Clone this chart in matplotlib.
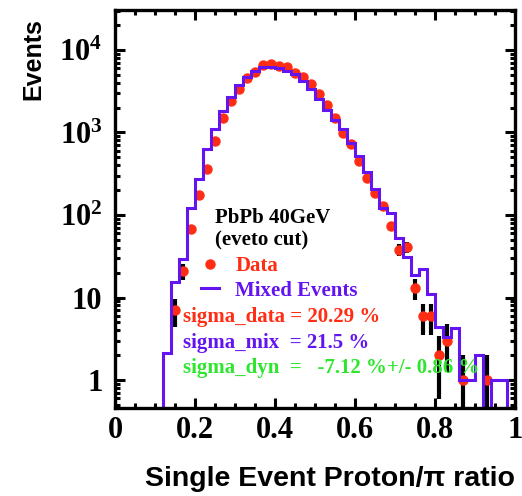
import numpy as np
import matplotlib
matplotlib.use('Agg')
from matplotlib import pyplot as plt
from matplotlib.ticker import FixedLocator, MultipleLocator, LogLocator, NullFormatter

plt.rcParams['mathtext.fontset'] = 'custom'
plt.rcParams['mathtext.rm'] = 'Liberation Serif:bold'
plt.rcParams['mathtext.it'] = 'Liberation Serif:bold'
plt.rcParams['mathtext.bf'] = 'Liberation Serif:bold'

# data points (bin centers, counts)
data_x = [0.15, 0.17, 0.19, 0.21, 0.23, 0.25, 0.27, 0.29, 0.31, 0.33,
          0.35, 0.37, 0.39, 0.41, 0.43, 0.45, 0.47, 0.49, 0.51, 0.53,
          0.55, 0.57, 0.59, 0.61, 0.63, 0.65, 0.67, 0.69, 0.71, 0.73,
          0.75, 0.77, 0.79, 0.81, 0.83, 0.87, 0.93]
data_y = [7, 21, 67, 174, 361, 796, 1480, 2410, 3365, 4540,
          5400, 6580, 6760, 6400, 6170, 5310, 4745, 3840, 2900, 2150,
          1480, 995, 728, 452, 283, 186, 129, 74, 38, 41,
          13, 6, 6, 2, 3, 1, 1]

# mixed events histogram, 50 bins from 0 to 1
bin_edges = np.linspace(0.0, 1.0, 51)
mixed = [0, 0, 0, 0, 0, 0, 2.1, 15.5, 29, 120,
         271, 630, 1096, 1817, 2717, 3767, 4745, 5620, 6300, 6300,
         6100, 5620, 5070, 4230, 3400, 2560, 1880, 1420, 1100, 752,
         519, 335, 205, 120, 107, 52, 31, 18.7, 22, 10.9,
         4.35, 3.29, 4.3, 1, 1, 2, 0, 1, 1, 0]

x_ticks = [0, 0.2, 0.4, 0.6, 0.8, 1]
x_ticklabels = ['0', '0.2', '0.4', '0.6', '0.8', '1']
y_ticks = [1, 10, 100, 1000, 10000]
y_ticklabels = ['1', '10', r'$10^{2}$', r'$10^{3}$', r'$10^{4}$']

red = '#ff2d14'
purple = '#6414f0'
green = '#2ee62e'
ymin, ymax = 0.458, 30500

fig = plt.figure(figsize=(5.22, 4.96), dpi=100)
ax = fig.add_axes([115/522, 88/496, 400/522, 398/496])
ax.set_yscale('log')

data_x = np.array(data_x)
data_y = np.array(data_y, dtype=float)
err = np.sqrt(data_y)
lower = np.minimum(err, data_y - 1e-3)
ax.errorbar(data_x, data_y, yerr=[lower, err], fmt='none', ecolor='black',
            elinewidth=3.0, capsize=0, zorder=2)
pts, = ax.plot(data_x, data_y, 'o', color=red, ms=6.5, mec=red, zorder=3)

mixed = np.array(mixed, dtype=float)
hist = ax.stairs(np.where(mixed > 0, mixed, 1e-3), bin_edges, baseline=None,
                 color=purple, lw=2.2, zorder=4)

ax.set_xlim(0, 1)
ax.set_ylim(ymin, ymax)

serif = {'family': 'Liberation Serif', 'weight': 'bold'}
ax.xaxis.set_major_locator(FixedLocator(x_ticks))
ax.set_xticklabels(x_ticklabels, fontdict=dict(serif, size=22))
ax.xaxis.set_minor_locator(MultipleLocator(0.05))
ax.yaxis.set_major_locator(FixedLocator(y_ticks))
ax.set_yticklabels(y_ticklabels, fontdict=dict(serif, size=22))
ax.yaxis.set_minor_locator(LogLocator(base=10, subs=range(2, 10)))
ax.yaxis.set_minor_formatter(NullFormatter())

ax.tick_params(which='both', direction='in', top=True, right=True, width=2.2, color='black')
ax.tick_params(which='major', length=7)
ax.tick_params(which='minor', length=3.6)
ax.tick_params(axis='x', which='major', pad=6)
ax.tick_params(axis='y', which='major', pad=9)
for s in ax.spines.values():
    s.set_linewidth(2.4)
    s.set_zorder(6)

sans = {'family': 'Liberation Sans', 'weight': 'bold', 'size': 20.5}
ax.set_xlabel('Single Event Proton/\u03c0 ratio', loc='right', fontdict=sans)
ax.xaxis.set_label_coords(1.0, -0.145)
ax.set_ylabel('Events', loc='top', fontdict=dict(sans, size=18))
ax.yaxis.set_label_coords(-0.175, 0.98)

tsize = 15
ax.text(0.25, 0.4656, 'PbPb 40GeV', transform=ax.transAxes, fontdict=dict(serif, size=tsize),
        color='black', va='baseline')
ax.text(0.25, 0.4095, '(eveto cut)', transform=ax.transAxes, fontdict=dict(serif, size=tsize),
        color='black', va='baseline')
ax.text(0.1708, 0.2168, 'sigma_data = 20.29 %', transform=ax.transAxes,
        fontdict=dict(serif, size=tsize), color=red, va='baseline')
ax.text(0.1708, 0.1515, 'sigma_mix  = 21.5 %', transform=ax.transAxes,
        fontdict=dict(serif, size=tsize), color=purple, va='baseline')
ax.text(0.1708, 0.0872, 'sigma_dyn  =   -7.12 %+/- 0.86 %', transform=ax.transAxes,
        fontdict=dict(serif, size=tsize), color=green, va='baseline', zorder=5)

ax.legend([pts, hist], ['Data', 'Mixed Events'], loc='upper left',
          bbox_to_anchor=(0.215, 0.382), frameon=False, borderpad=0, borderaxespad=0,
          handlelength=0.85, handletextpad=0.8, labelspacing=0.22,
          labelcolor=[red, purple], prop=dict(serif, size=tsize))

fig.savefig('out.png', dpi=100)
